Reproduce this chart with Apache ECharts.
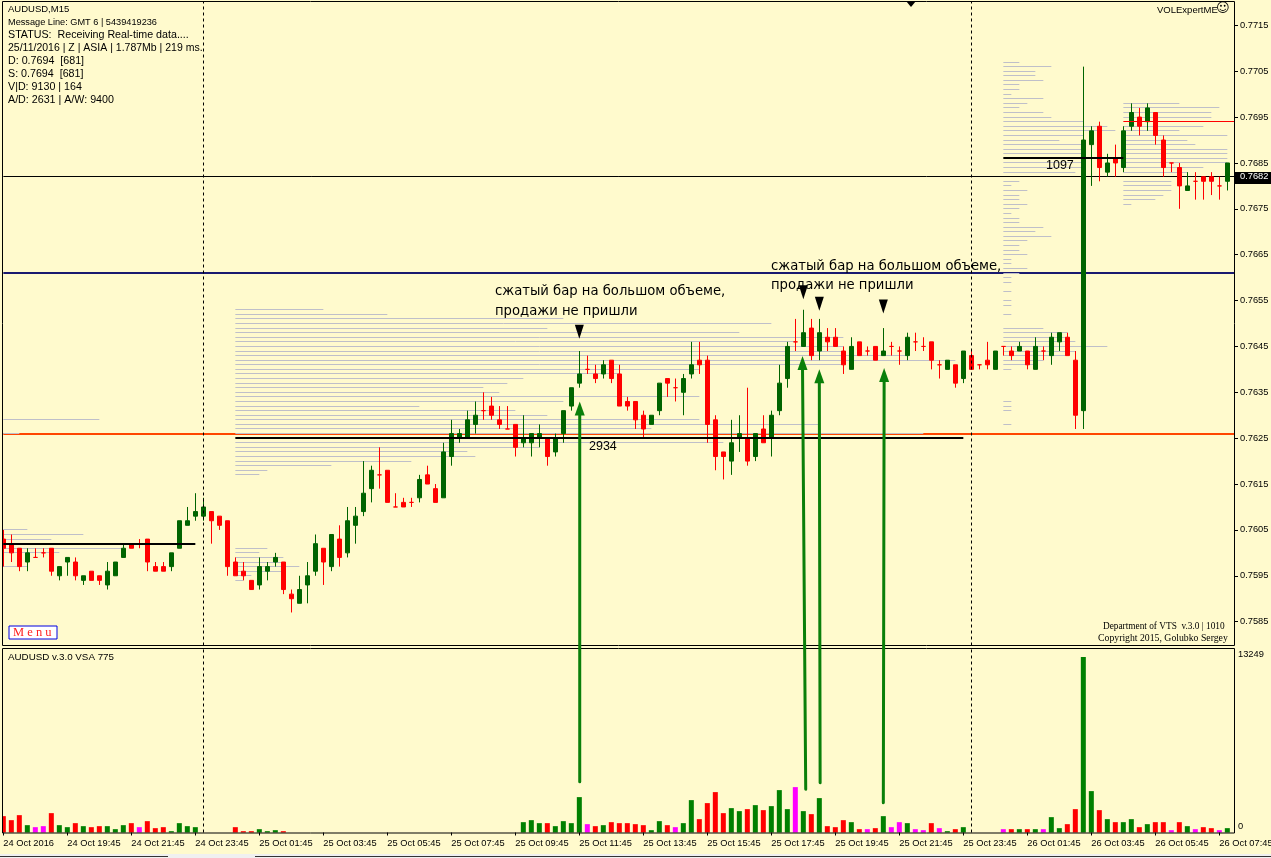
<!DOCTYPE html>
<html><head><meta charset="utf-8"><style>html,body{margin:0;padding:0;background:#FFFACD;overflow:hidden}#c{width:1271px;height:858px}</style>
<script src="https://cdn.jsdelivr.net/npm/echarts@6/dist/echarts.min.js"></script></head><body><div id="c"></div><script>
const opens=[.7603,.7602,.7601,.7598,.7599,.7600,.7601,.7595,.7598,.7598,.7594,.7596,.7595,.7593,.7595,.7599,.7602,.7602,.7603,.7597,.7597,.7597,.7601,.7606,.7608,.7608,.7609,.7608,.7607,.7598,.7596,.7594,.7593,.7596,.7598,.7598,.7591,.7589,.7593,.7596,.7601,.7597,.7603,.7600,.7606,.7609,.7614,.7617,.7618,.7610,.7611,.7611,.7612,.7617,.7614,.7612,.7621,.7625,.7625,.7628,.7631,.7632,.7629,.7627,.7628,.7624,.7624,.7625,.7625,.7622,.7626,.7632,.7637,.7640,.7639,.7639,.7642,.7639,.7633,.7633,.7630,.7628,.7631,.7638,.7636,.7635,.7639,.7642,.7642,.7629,.7622,.7620,.7625,.7625,.7621,.7627,.7625,.7631,.7638,.7646,.7645,.7649,.7644,.7647,.7647,.7644,.7640,.7646,.7644,.7645,.7643,.7645,.7644,.7643,.7646,.7645,.7646,.7641,.7640,.7641,.7638,.7643,.7641,.7642,.7640,.7645,.7644,.7644,.7644,.7640,.7644,.7643,.7646,.7647,.7642,.7631,.7689,.7693,.7683,.7686,.7684,.7693,.7695,.7694,.7696,.7690,.7685,.7684,.7679,.7681,.7682,.7682,.7680,.7681];
const closes=[.7601,.7600,.7597,.7600,.7599,.7600,.7596,.7597,.7599,.7595,.7595,.7594,.7594,.7596,.7598,.7601,.7601,.7602,.7598,.7596,.7596,.7600,.7607,.7607,.7609,.7610,.7607,.7606,.7597,.7595,.7595,.7592,.7597,.7597,.7599,.7592,.7590,.7592,.7595,.7602,.7598,.7604,.7599,.7607,.7608,.7613,.7618,.7617,.7611,.7610,.7610,.7611,.7616,.7615,.7611,.7622,.7626,.7626,.7629,.7630,.7631,.7630,.7628,.7627,.7623,.7625,.7626,.7626,.7621,.7625,.7631,.7636,.7639,.7640,.7638,.7641,.7638,.7632,.7632,.7629,.7627,.7630,.7637,.7637,.7636,.7638,.7641,.7641,.7628,.7621,.7621,.7624,.7626,.7620,.7626,.7624,.7630,.7637,.7645,.7646,.7648,.7643,.7648,.7646,.7645,.7641,.7645,.7643,.7644,.7642,.7644,.7645,.7644,.7647,.7646,.7645,.7642,.7641,.7642,.7637,.7644,.7640,.7641,.7641,.7644,.7645,.7643,.7645,.7641,.7645,.7644,.7647,.7648,.7643,.7630,.7690,.7692,.7684,.7685,.7685,.7692,.7696,.7693,.7697,.7691,.7684,.7685,.7680,.7680,.7681,.7681,.7681,.7680,.7685];
const lows=[.7597,.7598,.7596,.7596,.7599,.7599,.7595,.7594,.7595,.7594,.7593,.7594,.7593,.7592,.7595,.7599,.7601,.7601,.7596,.7596,.7596,.7596,.7601,.7606,.7607,.7607,.7602,.7605,.7595,.7595,.7594,.7592,.7592,.7594,.7597,.7591,.7587,.7589,.7589,.7595,.7593,.7596,.7597,.7599,.7602,.7608,.7611,.7614,.7611,.7610,.7610,.7610,.7611,.7615,.7611,.7612,.7619,.7624,.7625,.7626,.7629,.7629,.7627,.7627,.7621,.7623,.7621,.7623,.7619,.7621,.7624,.7631,.7636,.7639,.7637,.7638,.7637,.7632,.7631,.7627,.7625,.7628,.7630,.7634,.7633,.7630,.7638,.7639,.7624,.7618,.7616,.7617,.7622,.7619,.7620,.7624,.7621,.7630,.7636,.7644,.7645,.7642,.7642,.7644,.7645,.7639,.7640,.7643,.7643,.7642,.7643,.7643,.7641,.7642,.7644,.7644,.7640,.7638,.7640,.7636,.7637,.7640,.7640,.7640,.7640,.7643,.7642,.7644,.7640,.7640,.7642,.7641,.7644,.7643,.7627,.7627,.7680,.7681,.7682,.7682,.7683,.7692,.7691,.7692,.7689,.7682,.7683,.7675,.7679,.7677,.7677,.7678,.7677,.7679];
const highs=[.7605,.7604,.7601,.7601,.7601,.7601,.7601,.7597,.7599,.7599,.7595,.7596,.7595,.7598,.7598,.7602,.7602,.7603,.7603,.7598,.7598,.7600,.7607,.7610,.7613,.7612,.7609,.7608,.7607,.7599,.7598,.7594,.7599,.7598,.7600,.7598,.7592,.7595,.7598,.7604,.7601,.7604,.7606,.7610,.7610,.7620,.7619,.7623,.7618,.7613,.7612,.7612,.7617,.7619,.7615,.7624,.7629,.7627,.7631,.7633,.7635,.7634,.7632,.7632,.7628,.7630,.7626,.7628,.7625,.7626,.7631,.7636,.7644,.7643,.7641,.7642,.7642,.7641,.7634,.7633,.7631,.7630,.7637,.7638,.7638,.7639,.7646,.7646,.7643,.7630,.7622,.7629,.7630,.7636,.7626,.7630,.7631,.7641,.7646,.7651,.7653,.7651,.7651,.7649,.7649,.7645,.7647,.7646,.7645,.7645,.7649,.7646,.7645,.7648,.7648,.7647,.7646,.7642,.7642,.7641,.7644,.7644,.7641,.7646,.7644,.7645,.7645,.7646,.7644,.7647,.7645,.7648,.7648,.7648,.7644,.7706,.7693,.7694,.7687,.7689,.7693,.7698,.7697,.7698,.7696,.7691,.7685,.7685,.7683,.7683,.7682,.7683,.7682,.7685];
const volumes=[1235,932,1310,554,403,479,1462,554,403,706,479,403,479,479,252,554,706,403,857,328,403,100,706,479,403,null,null,null,null,403,100,100,252,100,176,100,null,null,null,null,null,null,null,null,null,null,null,null,null,null,null,null,null,null,null,null,null,null,null,null,null,null,null,null,null,781,932,706,706,479,857,706,2671,630,479,554,781,706,706,630,554,176,857,554,403,706,2444,1008,2218,3049,1462,1840,1613,1764,2066,1688,1991,3200,1764,3427,1613,1386,2596,479,403,932,781,252,252,328,1235,403,781,706,252,176,706,328,100,252,403,null,null,null,null,252,252,252,252,252,252,1159,328,630,1764,13249,3125,1688,1008,781,781,1008,403,630,781,781,176,781,479,252,403,328,176,328];
const volumeKinds=("rrrgmmrggr"+"grrgggrmrr"+"rgggg....r"+"rrgggr...."+".........."+".........."+".....gggrg"+"gggmrgrrrr"+"rggrmggrrr"+"rggrgrgggm"+"grgrrrgrmr"+"gmmgmmrmgr"+"g....mrgrg"+"mggrrggrgr"+"ggrgrrmrgm"+"rrmg").split("");
const tickLabels=["24 Oct 2016","24 Oct 19:45","24 Oct 21:45","24 Oct 23:45","25 Oct 01:45","25 Oct 03:45","25 Oct 05:45","25 Oct 07:45","25 Oct 09:45","25 Oct 11:45","25 Oct 13:45","25 Oct 15:45","25 Oct 17:45","25 Oct 19:45","25 Oct 21:45","25 Oct 23:45","26 Oct 01:45","26 Oct 03:45","26 Oct 05:45","26 Oct 07:45"];
const priceTicks=[.7585,.7595,.7605,.7615,.7625,.7635,.7645,.7655,.7665,.7675,.7685,.7695,.7705,.7715];
const currentPrice=.7682;
const volumeTicks=[0,13249];
const daySeparators=[25,121];
// volume profiles: [first bar, [price, length in bars]...]
const profileA=[0,[[.7629,12],[.7626,2],[.7605,3],[.7604,10],[.7603,6],[.7601,15],[.7600,7],[.7597,3]]];
const profileB=[29,[[.7653,11],[.7652,19],[.7651,41],[.7650,67],[.7649,39],[.7648,63],[.7647,76],[.7646,70],[.7645,76],[.7644,76],[.7643,84],[.7642,90],[.7641,76],[.7640,58],[.7639,48],[.7638,36],[.7637,34],[.7636,31],[.7635,33],[.7634,58],[.7633,41],[.7632,23],[.7631,35],[.7630,39],[.7629,58],[.7628,73],[.7627,52],[.7626,86],[.7624,61],[.7623,38],[.7622,29],[.7621,30],[.7620,22],[.7619,12],[.7618,4],[.7617,3]]];
const profileC=[29,[[.7601,4],[.7600,3],[.7599,6],[.7598,6],[.7597,8],[.7596,6],[.7595,2],[.7594,1]]];
const profileD=[125,[[.7707,2],[.7706,6],[.7705,4],[.7704,4],[.7703,5],[.7702,2],[.7701,2],[.7700,1],[.7699,5],[.7698,3],[.7697,2],[.7696,5],[.7695,6],[.7694,10],[.7693,13],[.7692,14],[.7691,10],[.7690,7],[.7689,10],[.7688,10],[.7687,10],[.7685,10],[.7684,10],[.7683,9],[.7681,2],[.7680,1],[.7679,3],[.7678,2],[.7677,2],[.7676,3],[.7675,2],[.7674,1],[.7673,2],[.7672,2],[.7671,5],[.7670,4],[.7669,6],[.7668,3],[.7667,2],[.7666,2],[.7665,3],[.7664,1],[.7663,1],[.7662,3],[.7661,2],[.7660,1],[.7659,1],[.7657,1],[.7655,1],[.7654,1],[.7652,1],[.7649,5],[.7648,8],[.7647,8],[.7646,9],[.7645,13],[.7644,9],[.7643,8],[.7642,5],[.7641,4],[.7640,1],[.7633,1],[.7632,1],[.7631,1],[.7628,1]]];
const profileE=[140,[[.7698,7],[.7697,12],[.7696,11],[.7695,11],[.7693,10],[.7692,7],[.7691,13],[.7690,8],[.7689,9],[.7688,13],[.7687,13],[.7686,13],[.7685,13],[.7684,10],[.7683,8],[.7681,6],[.7680,6],[.7679,6],[.7678,5],[.7677,4],[.7676,1]]];
// level lines: [first bar, last bar, price]
const navyLevels=[[0,154,.7661]];
const orangeLevels=[[0,154,.7626]];
const currentLevels=[[0,154,.7682]];
const redLevels=[[140,154,.7694]];
const thickLevels=[[0,24,.7602],[29,120,.7625],[125,140,.7686]];
// markers above the squeezed bars
const markerBars=[72,100,102,110];
const markerPrices=[.76482,.76568,.76543,.76537];
// arrows: from a point in the volume pane up to a point in the price pane
const arrowFromBars=[72.05,100.3,102.1,110];
const arrowFromVolumes=[3835,3262,3760,2250];
const arrowToBars=[72.05,99.9,102,110.1];
const arrowToPrices=[.7633,.76429,.7640,.76403];

const BG='#FFFACD',FRAME_R=1234.5,SANS='"Liberation Sans",Arial,sans-serif';
const barCount=opens.length;
const categories=opens.map((_,i)=>i%8===0?tickLabels[i/8]:'');
const hline=(rows,color,width,z)=>({type:'custom',xAxisIndex:0,yAxisIndex:0,z,silent:true,encode:{x:0,y:2},data:rows,itemStyle:{color},
  renderItem(p,api){
    const a=api.coord([api.value(0),api.value(2)]),b=api.coord([api.value(1),api.value(2)]);
    const y=width%2?Math.round(a[1]-.5)+.5:Math.round(a[1]);
    return {type:'line',shape:{x1:a[0],y1:y,x2:Math.min(b[0],FRAME_R),y2:y},style:{stroke:color,fill:'none',lineWidth:width}};
  }});
const profileRows=pr=>pr[1].map(r=>[pr[0],pr[0]+r[1],r[0]]);
const allProfiles=[profileA,profileB,profileC,profileD,profileE].flatMap(profileRows);
const volColor={g:'#008000',r:'#FF0000',m:'#FF00FF'};
const dash=daySeparators.map(i=>({xAxis:i}));
const sepLine={silent:true,symbol:'none',label:{show:false},animation:false,lineStyle:{color:'#000',width:1,type:[3,3]},data:dash};

const chart=echarts.init(document.getElementById('c'),null,{renderer:'canvas'});
const gridL=-0.67,gridW=barCount*8;
chart.setOption({
  animation:false,backgroundColor:BG,
  grid:[{left:gridL,top:1.5,width:gridW,height:644,outerBoundsMode:'none'},{left:gridL,top:648.5,width:gridW,height:184,outerBoundsMode:'none'}],
  xAxis:[
    {type:'category',gridIndex:0,data:categories,show:false},
    {type:'category',gridIndex:1,data:categories,z:10,axisLine:{show:false},
      axisTick:{show:true,length:3,interval:7,alignWithLabel:true,lineStyle:{color:'#000'}},
      axisLabel:{interval:7,align:'left',margin:6,fontFamily:SANS,fontSize:9.3,color:'#000',hideOverlap:false,formatter:v=>v}}
  ],
  yAxis:[
    {type:'value',gridIndex:0,min:.75798,max:.77202,position:'right',offset:2.67,z:10,scale:true,splitLine:{show:false},axisLine:{show:false},
      axisTick:{show:true,length:4,customValues:priceTicks,lineStyle:{color:'#000'}},
      axisLabel:{margin:6,customValues:priceTicks.concat([currentPrice]),fontFamily:SANS,fontSize:9.3,color:'#000',
        formatter:v=>Math.abs(v-currentPrice)<1e-6?'{cur|'+v.toFixed(4)+'}':v.toFixed(4),
        rich:{cur:{color:'#fff',fontFamily:SANS,fontSize:9.3}}}},
    {type:'value',gridIndex:1,min:0,max:13891,show:false,splitLine:{show:false}},
    {type:'value',gridIndex:1,min:-445,max:13671,position:'right',offset:2.67,z:10,splitLine:{show:false},axisLine:{show:false},axisTick:{show:false},
      axisLabel:{margin:4,customValues:volumeTicks,fontFamily:SANS,fontSize:9.3,color:'#000',formatter:v=>String(v)}}
  ],
  series:[
    hline(navyLevels,'#191970',2,1),hline(orangeLevels,'#FF4500',2,1),hline(currentLevels,'#000',1,1),
    hline(allProfiles,'#BFBFC9',1,2),
    {type:'candlestick',xAxisIndex:0,yAxisIndex:0,z:3,barWidth:4,silent:true,
      data:opens.map((o,i)=>[o,closes[i],lows[i],highs[i]]),
      itemStyle:{color:'#006400',color0:'#FF0000',borderColor:'#006400',borderColor0:'#FF0000',borderColorDoji:'#FF0000',borderWidth:1},
      markLine:sepLine},
    hline(thickLevels,'#000',2,4),hline(redLevels,'#FF0000',1,4),
    {type:'scatter',xAxisIndex:0,yAxisIndex:0,z:5,silent:true,symbol:'triangle',symbolRotate:180,symbolSize:[9,14],itemStyle:{color:'#000',opacity:1},
      data:markerBars.map((b,i)=>[b,markerPrices[i]])},
    {type:'bar',xAxisIndex:1,yAxisIndex:1,barWidth:5,silent:true,z:3,
      data:volumes.map((v,i)=>({value:v,itemStyle:{color:volColor[volumeKinds[i]]||'#000'}})),
      markLine:sepLine}
  ]
});

// pixel position for a fractional bar index
function barX(b,gi){const f=Math.floor(b),a=chart.convertToPixel({gridIndex:gi},[f,0])[0],c=chart.convertToPixel({gridIndex:gi},[f+1,0])[0];return a+(c-a)*(b-f);}
const arrows=arrowFromBars.flatMap((fb,i)=>{
  const x1=barX(fb,1),y1=chart.convertToPixel({xAxisIndex:1,yAxisIndex:1},[0,arrowFromVolumes[i]])[1];
  const x2=barX(arrowToBars[i],0),y2=chart.convertToPixel({xAxisIndex:0,yAxisIndex:0},[0,arrowToPrices[i]])[1];
  const hy=y2+14;
  return [
    {type:'line',z:7,shape:{x1,y1,x2,y2:hy},style:{stroke:'#0A7F0A',lineWidth:3,lineCap:'round'}},
    {type:'polygon',z:7,shape:{points:[[x2,y2],[x2+5,hy],[x2-5,hy]]},style:{fill:'#0A7F0A'}}
  ];
});
const curY=chart.convertToPixel({xAxisIndex:0,yAxisIndex:0},[0,currentPrice])[1];
const txt=(x,y,text,size,extra)=>Object.assign({type:'text',z:8,x,y,style:Object.assign({text,fontFamily:SANS,fontSize:size,fill:'#000',textVerticalAlign:'middle',textBaseline:'middle'},extra||{})},{});
const RU='"DejaVu Sans",sans-serif',SERIF='"Liberation Serif",serif';
chart.setOption({graphic:{elements:[
  {type:'rect',z:5,shape:{x:0,y:0,width:2.5,height:858},style:{fill:BG}},
  {type:'rect',z:6,shape:{x:2.5,y:1.5,width:FRAME_R-2.5,height:644},style:{fill:'none',stroke:'#000',lineWidth:1}},
  {type:'rect',z:6,shape:{x:2.5,y:648.5,width:FRAME_R-2.5,height:184.5},style:{fill:'none',stroke:'#000',lineWidth:1}},
  {type:'rect',z:6,shape:{x:1235,y:Math.round(curY)-5,width:36,height:12},style:{fill:'#000'}},
  {type:'polygon',z:6,shape:{points:[[906,1],[916,1],[911,7]]},style:{fill:'#000'}},
  {type:'rect',z:6,shape:{x:0,y:854,width:1271,height:4},style:{fill:'#F0F0F0'}},
  {type:'line',z:6,shape:{x1:0,y1:856.5,x2:168,y2:856.5},style:{stroke:'#333',lineWidth:1}},
  {type:'line',z:6,shape:{x1:255,y1:856.5,x2:1271,y2:856.5},style:{stroke:'#333',lineWidth:1}},
  ...arrows,
  txt(8,9.5,'AUDUSD,M15',9.5),
  txt(8,22.5,'Message Line: GMT 6 | 5439419236',9.2),
  txt(8,35,'STATUS:  Receiving Real-time data....',10.7),
  txt(8,48,'25/11/2016 | Z | ASIA | 1.787Mb | 219 ms.',10.5),
  txt(8,61,'D: 0.7694  [681]',10.7),
  txt(8,74,'S: 0.7694  [681]',10.7),
  txt(8,87,'V|D: 9130 | 164',10.7),
  txt(8,100,'A/D: 2631 | A/W: 9400',10.7),
  txt(1157,10,'VOLExpertME',9.5),
  txt(1216,9,'☺',13,{fontFamily:RU}),
  txt(495,292,'сжатый бар на большом объеме,',13.2,{fontFamily:RU}),
  txt(495,312,'продажи не пришли',13.2,{fontFamily:RU}),
  txt(771,267,'сжатый бар на большом объеме,',13.2,{fontFamily:RU}),
  txt(771,286,'продажи не пришли',13.2,{fontFamily:RU}),
  txt(589,447,'2934',12.5),
  txt(1046,166,'1097',12.5),
  {type:'rect',z:8,shape:{x:9,y:626,width:48,height:13},style:{fill:'#FFFFFF',stroke:'#0000E0',lineWidth:1}},
  txt(13,632.5,'M e n u',12.5,{fontFamily:SERIF,fill:'#FF2020'}),
  txt(1103,627,'Department of VTS  v.3.0 | 1010',9.3,{fontFamily:SERIF}),
  txt(1098,638,'Copyright 2015, Golubko Sergey',9.75,{fontFamily:SERIF}),
  txt(8,657,'AUDUSD v.3.0 VSA 775',9.8)
]}});
</script></body></html>
